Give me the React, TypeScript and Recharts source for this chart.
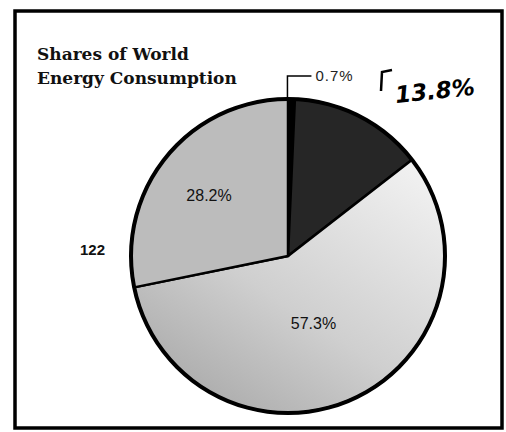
import React from "react";
import { PieChart, Pie, Cell } from "recharts";

const sliceNames = ["Sliver", "Dark", "Light", "Medium"];
const sliceValues = [0.7, 13.8, 57.3, 28.2];
const sliceLabels = ["0.7%", "", "57.3%", "28.2%"];
const sliceFills = ["#000000", "#262626", "url(#lightGrad)", "#bcbcbc"];
const titleLines = ["Shares of World", "Energy Consumption"];
const sideNote = "122";
const handNote = "13.8%";

const data = sliceNames.map((name, i) => ({ name, value: sliceValues[i], label: sliceLabels[i] }));

const RAD = Math.PI / 180;

const renderLabel = (props: any) => {
  const { cx, cy, midAngle, outerRadius, index } = props;
  const text = sliceLabels[index];
  if (!text) return null;
  if (index === 0) {
    const x0 = cx + outerRadius * Math.cos(-midAngle * RAD) - 4;
    const y0 = cy + outerRadius * Math.sin(-midAngle * RAD);
    const yTop = y0 - 23;
    return (
      <g key={`l${index}`}>
        <path d={`M${x0},${y0} L${x0},${yTop} L${x0 + 24},${yTop}`} stroke="#000" strokeWidth={1.5} fill="none" />
        <text x={x0 + 28} y={yTop} dy={5} fontFamily="Liberation Sans, Arial, sans-serif" fontSize={15} letterSpacing={1} fill="#222">
          {text}
        </text>
      </g>
    );
  }
  const factor = index === 3 ? 0.6 : 0.48;
  const r = outerRadius * factor;
  const x = cx + r * Math.cos(-midAngle * RAD) - (index === 3 ? 6 : 6);
  const y = cy + r * Math.sin(-midAngle * RAD);
  return (
    <text key={`l${index}`} x={x} y={y} dy={5} textAnchor="middle" fontFamily="Liberation Sans, Arial, sans-serif" fontSize={16} fill="#111">
      {text}
    </text>
  );
};

export default function App() {
  return (
    <div style={{ position: "absolute", left: 0, top: 0, width: 506, height: 432, background: "#fff" }}>
      <PieChart width={506} height={432}>
        <defs>
          <linearGradient id="lightGrad" x1="0.1" y1="1" x2="0.9" y2="0">
            <stop offset="0" stopColor="#a4a4a4" />
            <stop offset="0.45" stopColor="#cfcfcf" />
            <stop offset="1" stopColor="#f2f2f2" />
          </linearGradient>
        </defs>
        <Pie
          data={data}
          dataKey="value"
          nameKey="name"
          cx={283}
          cy={251}
          outerRadius={157}
          startAngle={90}
          endAngle={-270}
          stroke="#000"
          strokeWidth={2.5}
          label={renderLabel}
          labelLine={false}
          isAnimationActive={false}
        >
          {data.map((d, i) => (
            <Cell key={d.name} fill={sliceFills[i]} />
          ))}
        </Pie>
        <Pie
          data={[{ name: "ring", value: 1 }]}
          dataKey="value"
          cx={283}
          cy={251}
          innerRadius={155}
          outerRadius={159}
          fill="#000"
          stroke="none"
          isAnimationActive={false}
        />
        <rect x={15} y={11} width={487} height={417} fill="none" stroke="#000" strokeWidth={3.5} />
        <text x={37} y={60} fontFamily="DejaVu Serif, serif" fontWeight="bold" fontSize={17} fill="#111">
          {titleLines[0]}
        </text>
        <text x={37} y={84} fontFamily="DejaVu Serif, serif" fontWeight="bold" fontSize={17} fill="#111">
          {titleLines[1]}
        </text>
        <text x={80} y={255} fontFamily="Liberation Sans, Arial, sans-serif" fontWeight="bold" fontSize={15} fill="#111">
          {sideNote}
        </text>
        <path d="M381,91 L382,72 L392,70" stroke="#000" strokeWidth={2.5} fill="none" />
        <text x={396} y={103} fontFamily="DejaVu Sans, sans-serif" fontStyle="italic" fontWeight="bold" fontSize={23} fill="#000" transform="rotate(-6 396 103)">
          {handNote}
        </text>
      </PieChart>
    </div>
  );
}
